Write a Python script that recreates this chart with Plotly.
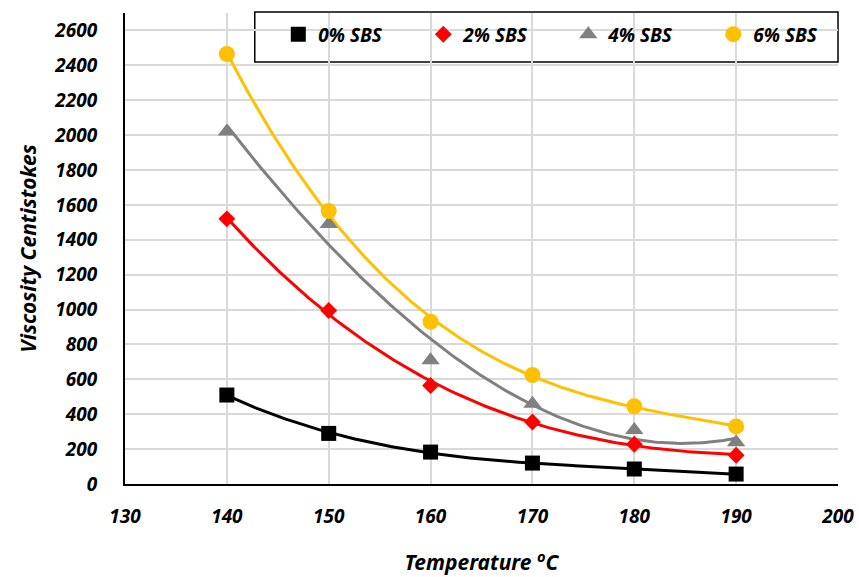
import numpy as np
import plotly.graph_objects as go

temperature = [140, 150, 160, 170, 180, 190]
sbs0 = [510, 290, 183, 120, 86, 57]
sbs2 = [1520, 995, 565, 355, 228, 165]
sbs4 = [2020, 1490, 710, 460, 310, 240]
sbs6 = [2465, 1565, 930, 625, 445, 330]

series_names = ["0% SBS", "2% SBS", "4% SBS", "6% SBS"]
series_values = [sbs0, sbs2, sbs4, sbs6]
colors = ["#000000", "#FF0000", "#808080", "#FFC000"]
symbols = ["square", "diamond", "triangle-up", "circle"]
sizes = [15, 13, 16, 16]

x_ticks = [130, 140, 150, 160, 170, 180, 190, 200]
y_ticks = list(range(0, 2601, 200))

fig = go.Figure()

xs = np.array(temperature, dtype=float)
xfine = np.linspace(xs.min(), xs.max(), 200)
for name, vals, c in zip(series_names, series_values, colors):
    coef = np.polyfit(xs, np.array(vals, dtype=float), 3)
    fig.add_trace(go.Scatter(x=xfine, y=np.polyval(coef, xfine), mode="lines",
                             line=dict(color=c, width=3), showlegend=False,
                             hoverinfo="skip"))

for name, vals, c, s, sz in zip(series_names, series_values, colors, symbols, sizes):
    fig.add_trace(go.Scatter(x=temperature, y=vals, mode="markers", name=name,
                             marker=dict(color=c, symbol=s, size=sz, line=dict(width=0))))

font_family = "Noto Sans"
fig.update_layout(
    width=859, height=577,
    margin=dict(l=125, r=21, t=13, b=93, autoexpand=False),
    plot_bgcolor="white", paper_bgcolor="white",
    font=dict(family=font_family, color="black", size=18, weight="bold", style="italic"),
    xaxis=dict(range=[130, 200], tickvals=x_ticks, showgrid=True, gridcolor="#D9D9D9",
               gridwidth=1.5, showline=True, linecolor="black", linewidth=2,
               zeroline=False, ticks="", ticklabelstandoff=14, automargin=False,
               tickfont=dict(size=19, weight="bold", style="italic"),
               title=dict(text="Temperature <sup>o</sup>C", standoff=28,
                          font=dict(size=21, weight="bold", style="italic"))),
    yaxis=dict(range=[0, 2700], tickvals=y_ticks, showgrid=True, gridcolor="#D9D9D9",
               gridwidth=1.5, showline=True, linecolor="black", linewidth=2,
               zeroline=False, ticks="", ticklabelstandoff=22, automargin=False,
               tickfont=dict(size=19, weight="bold", style="italic"),
               title=dict(text="Viscosity Centistokes", standoff=12,
                          font=dict(size=21, weight="bold", style="italic"))),
    legend=dict(orientation="h", x=0.215, y=0.995, xanchor="left", yanchor="top",
                bgcolor="rgba(0,0,0,0)", borderwidth=0, entrywidth=100,
                font=dict(size=19, weight="bold", style="italic"), itemsizing="trace"),
    shapes=[dict(type="rect", xref="paper", yref="paper", x0=0.182, x1=1.0, y0=0.896, y1=1.002,
                 line=dict(color="black", width=1.5), fillcolor="white", layer="below")],
)

fig.write_html("out.html")
